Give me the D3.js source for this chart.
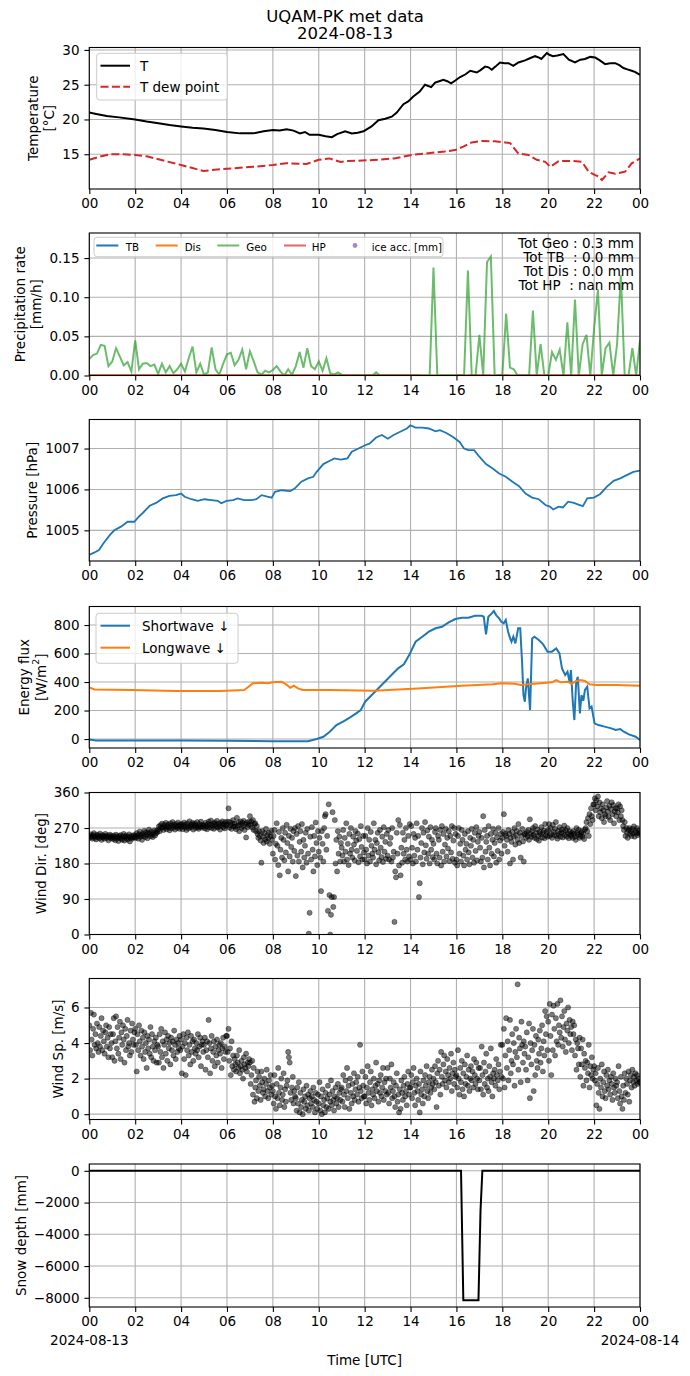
<!DOCTYPE html>
<html><head><meta charset="utf-8">
<script src="https://cdn.jsdelivr.net/npm/d3@7"></script>
<style>body{margin:0;background:#fff} text{font-family:"DejaVu Sans",sans-serif}</style>
</head><body>
<svg id="c" width="690" height="1376"></svg>
<script>
// ---------------- DATA ----------------
const hourTicks = [0,2,4,6,8,10,12,14,16,18,20,22,24];
const dateLabels = ["2024-08-13","2024-08-14"];

const tempT = [[0,21.0],[0.3,20.8],[0.76,20.5],[1.3,20.3],[2,20.0],[2.5,19.7],[2.94,19.5],[3.5,19.2],[4,19.0],[4.5,18.8],[4.97,18.7],[5.5,18.5],[6,18.2],[6.57,18.0],[7.15,18.0],[7.6,18.3],[8,18.5],[8.3,18.4],[8.6,18.6],[8.9,18.4],[9.18,18.0],[9.4,18.2],[9.6,17.8],[10,17.8],[10.3,17.6],[10.57,17.45],[10.8,17.9],[11.15,18.3],[11.44,18.0],[11.7,18.1],[11.95,18.3],[12.3,19.0],[12.6,19.9],[12.9,20.1],[13.18,20.4],[13.4,21.0],[13.69,22.2],[13.9,22.6],[14.12,23.3],[14.4,24.0],[14.63,25.0],[14.9,24.65],[15.07,25.3],[15.25,25.5],[15.43,25.7],[15.6,25.5],[15.77,25.2],[15.95,25.6],[16.16,26.1],[16.4,26.5],[16.6,27.0],[16.89,26.75],[17.05,27.1],[17.25,27.6],[17.4,27.5],[17.54,27.15],[17.7,27.6],[17.9,28.2],[18.1,28.1],[18.27,28.1],[18.48,27.7],[18.7,28.2],[18.99,28.5],[19.2,28.8],[19.43,29.1],[19.6,28.9],[19.7,28.7],[19.94,29.55],[20.05,29.3],[20.2,29.1],[20.4,29.2],[20.66,29.4],[20.9,28.6],[21.17,28.2],[21.4,28.6],[21.6,28.7],[21.83,29.0],[22.05,28.9],[22.25,28.5],[22.48,27.96],[22.7,28.1],[22.92,28.1],[23.1,27.8],[23.28,27.4],[23.45,27.2],[23.64,27.0],[23.8,26.8],[24,26.4]];

const tempDew = [[0,14.2],[0.46,14.65],[0.9,15.0],[1.33,15.0],[2,14.9],[2.5,14.7],[3.1,14.2],[4,13.45],[4.97,12.6],[5.7,12.84],[6.28,12.98],[7.15,13.2],[8,13.45],[8.6,13.7],[9.47,13.6],[10,14.2],[10.45,14.4],[10.95,13.9],[11.15,14.0],[12.6,14.2],[13.3,14.4],[14.05,14.9],[14.63,15.1],[15.5,15.4],[15.94,15.6],[16.3,16.1],[16.67,16.7],[17.1,16.9],[17.68,16.85],[18.12,16.7],[18.34,16.6],[18.7,15.1],[19.14,14.9],[19.5,14.2],[19.87,13.9],[20.09,13.2],[20.45,14.0],[21.03,14.05],[21.47,13.9],[21.76,12.5],[22.05,12.0],[22.2,11.8],[22.34,11.3],[22.5,11.9],[22.63,12.4],[22.92,12.2],[23.35,12.5],[23.64,13.7],[24,14.4]];

// Geo precipitation rate, 10-min values, one row per hour
const geoByHour = [
 [0.021,0.026,0.028,0.039,0.038,0.012],
 [0.018,0.035,0.024,0.013,0.017,0.005],
 [0.045,0.008,0.015,0.016,0.012,0.014],
 [0.002,0.015,0.004,0.012,0.003,0.008],
 [0.015,0.005,0.022,0.037,0.004,0.015],
 [0.001,0.004,0.036,0.008,0.001,0.015],
 [0.027,0.029,0.013,0.020,0.033,0.008],
 [0.031,0.018,0.004,0.001,0.006,0.004],
 [0.007,0.012,0.005,0.000,0.008,0.001],
 [0.012,0.030,0.010,0.035,0.012,0.008],
 [0.018,0.006,0.022,0.003,0.001,0.004],
 [0.001,0,0,0,0,0],
 [0,0,0,0.004,0,0],
 [0,0,0,0,0,0],
 [0,0,0,0,0,0],
 [0.138,0,0,0,0,0],
 [0,0,0,0.134,0,0],
 [0.052,0,0.145,0.152,0,0],
 [0,0.079,0.010,0.008,0,0],
 [0,0,0.083,0,0.040,0],
 [0,0.030,0.020,0.033,0,0.068],
 [0,0.097,0,0.040,0.052,0],
 [0.060,0.110,0,0.035,0.042,0],
 [0.040,0.128,0,0,0.035,0],
 [0.045]
];
const tbRate = [[0,0],[24,0]];
const disRate = [[0,0],[24,0]];
const hpSegments = [[0,14.4],[16.0,16.3],[16.5,17.5],[17.8,18.3],[18.6,24]];
const precipTotals = ["Tot Geo : 0.3 mm","Tot TB  : 0.0 mm","Tot Dis : 0.0 mm","Tot HP  : nan mm"];
const precipLegend = ["TB","Dis","Geo","HP","ice acc. [mm]"];

const pressure = [[0,1004.40],[0.23,1004.46],[0.42,1004.52],[0.61,1004.68],[0.9,1004.89],[1.09,1005.0],[1.38,1005.09],[1.67,1005.21],[1.96,1005.21],[2.15,1005.33],[2.34,1005.43],[2.63,1005.60],[2.91,1005.67],[3.2,1005.78],[3.49,1005.84],[3.78,1005.86],[4.0,1005.90],[4.16,1005.82],[4.45,1005.76],[4.73,1005.72],[5.02,1005.76],[5.31,1005.74],[5.6,1005.72],[5.75,1005.66],[5.98,1005.72],[6.27,1005.74],[6.46,1005.78],[6.75,1005.74],[7.03,1005.74],[7.28,1005.76],[7.51,1005.86],[7.8,1005.82],[7.95,1005.80],[8.09,1005.94],[8.38,1005.98],[8.76,1005.96],[8.95,1006.02],[9.24,1006.19],[9.53,1006.27],[9.76,1006.31],[9.91,1006.43],[10.2,1006.62],[10.48,1006.70],[10.68,1006.76],[10.96,1006.73],[11.25,1006.76],[11.44,1006.92],[11.73,1007.0],[12.02,1007.08],[12.21,1007.12],[12.5,1007.27],[12.75,1007.33],[13.01,1007.24],[13.26,1007.33],[13.55,1007.41],[13.84,1007.49],[13.99,1007.57],[14.22,1007.51],[14.51,1007.51],[14.8,1007.49],[15.09,1007.42],[15.28,1007.45],[15.56,1007.38],[15.85,1007.28],[16.14,1007.16],[16.33,1007.0],[16.52,1006.96],[16.77,1006.96],[17.0,1006.80],[17.29,1006.62],[17.58,1006.51],[17.86,1006.39],[18.15,1006.31],[18.44,1006.19],[18.73,1006.08],[19.01,1005.90],[19.3,1005.80],[19.59,1005.76],[19.88,1005.62],[20.07,1005.58],[20.22,1005.51],[20.45,1005.58],[20.64,1005.56],[20.87,1005.70],[21.12,1005.67],[21.31,1005.63],[21.51,1005.59],[21.7,1005.78],[21.99,1005.80],[22.27,1005.89],[22.56,1006.07],[22.85,1006.21],[23.14,1006.27],[23.42,1006.35],[23.71,1006.43],[24,1006.46]];

const shortwave = [[0,-3],[0.3,-10],[2,-10],[4,-11],[6,-12],[8,-15],[9.53,-16],[9.91,0],[10.2,16],[10.48,51],[10.77,98],[11.06,122],[11.35,150],[11.63,180],[11.83,203],[12.02,262],[12.31,309],[12.59,355],[12.88,402],[13.17,449],[13.46,496],[13.71,524],[13.94,589],[14.22,683],[14.51,718],[14.8,753],[15.09,777],[15.37,788],[15.66,819],[15.95,842],[16.24,851],[16.52,851],[16.81,865],[17.1,865],[17.19,858],[17.29,734],[17.39,858],[17.54,882],[17.63,898],[17.73,870],[17.86,847],[17.96,823],[18.06,812],[18.15,835],[18.25,753],[18.34,706],[18.4,683],[18.48,718],[18.57,671],[18.69,777],[18.78,777],[18.86,543],[18.92,309],[18.98,262],[19.03,355],[19.11,426],[19.21,203],[19.3,706],[19.4,718],[19.59,695],[19.78,664],[19.97,613],[20.16,613],[20.35,636],[20.49,601],[20.6,496],[20.74,449],[20.84,472],[20.93,402],[20.99,484],[21.07,262],[21.14,133],[21.22,402],[21.29,437],[21.38,180],[21.45,309],[21.53,267],[21.6,344],[21.7,367],[21.8,215],[21.89,227],[22.02,110],[22.18,98],[22.46,87],[22.75,75],[22.94,63],[23.14,70],[23.29,51],[23.52,33],[23.81,16],[24,-7]];

const longwave = [[0,362],[0.23,348],[1.86,344],[3.78,337],[5.69,337],[6.75,344],[6.94,367],[7.13,391],[7.51,395],[7.8,391],[8.0,398],[8.38,402],[8.57,384],[8.76,360],[8.91,374],[9.1,355],[9.3,344],[10.48,344],[12.4,339],[14.32,355],[16.24,374],[17.58,384],[17.96,391],[18.53,388],[18.82,379],[19.11,384],[19.68,391],[20.16,398],[20.35,414],[20.54,398],[20.84,402],[21.03,388],[21.22,407],[21.41,414],[21.6,407],[21.8,384],[22.09,379],[22.94,379],[24,374]];

// wind direction [deg], 2-min values, one row per hour
const windDirByHour = [
 [250,246,254,248,243,252,257,245,249,241,253,247,251,244,256,248,240,252,246,250,243,255,249,245,251,239,247,253,244,250],
 [247,242,251,245,239,253,248,244,237,250,246,252,243,240,249,255,238,247,251,244,241,248,254,236,245,250,243,247,252,246],
 [251,245,257,249,243,254,261,248,252,240,256,250,263,247,259,252,244,258,266,255,249,261,253,247,258,264,251,256,262,259],
 [266,274,262,277,270,281,272,265,278,271,283,267,275,279,271,264,282,276,269,285,273,278,266,280,274,270,284,276,268,279],
 [273,280,267,276,284,271,278,265,282,274,269,287,275,272,279,283,266,277,281,270,276,285,272,268,280,274,286,271,278,275],
 [277,269,283,274,267,280,286,272,278,289,270,276,282,268,284,279,273,288,271,281,275,266,283,278,287,272,280,269,285,276],
 [279,286,320,271,285,277,268,282,290,274,281,273,267,296,276,284,262,278,287,270,283,275,288,265,280,246,284,272,278,286],
 [300,278,286,271,290,265,280,282,262,275,255,245,262,250,238,182,262,248,232,257,241,268,236,252,244,258,230,249,263,240],
 [205,250,265,190,230,282,225,176,260,150,215,245,195,270,240,188,258,208,278,232,160,250,198,268,222,245,185,262,212,270],
 [148,255,200,275,185,235,262,210,280,170,240,195,225,258,182,268,205,2,55,248,190,272,215,160,250,198,284,232,176,262],
 [210,245,195,110,262,230,185,270,300,305,215,250,60,330,100,0,50,95,310,70,95,290,180,240,160,262,205,248,185,232],
 [220,200,265,185,245,210,282,190,230,176,255,205,270,215,195,248,228,188,262,238,212,256,183,242,198,275,222,190,250,208],
 [190,250,215,180,270,200,240,185,260,225,205,195,282,215,240,178,232,258,208,188,265,220,196,248,184,272,210,235,192,255],
 [200,265,190,230,245,185,270,195,210,32,160,145,258,205,290,175,278,150,220,182,258,205,240,190,270,215,185,250,198,280],
 [190,275,220,180,255,200,245,185,282,215,250,95,130,195,232,270,178,258,208,285,226,192,264,205,248,180,272,215,240,196],
 [230,190,260,270,205,180,250,240,195,265,175,275,210,255,185,228,268,198,245,218,262,186,250,208,275,192,238,270,182,255],
 [190,175,250,270,205,230,185,265,240,200,175,255,215,230,190,262,208,178,245,225,268,195,240,182,258,212,272,188,235,250],
 [260,220,185,245,195,300,170,265,210,235,250,190,275,220,175,255,205,240,268,198,232,258,182,246,212,270,190,238,255,205],
 [245,260,305,225,255,250,240,210,265,255,180,245,235,260,190,248,270,228,252,262,240,280,232,258,195,250,268,236,185,255],
 [255,245,260,250,265,240,292,255,248,262,270,252,245,275,258,242,266,250,238,260,254,272,246,258,264,244,280,252,260,248],
 [265,280,250,270,255,245,278,260,252,268,285,250,243,262,255,272,248,258,266,246,260,276,252,264,248,270,256,244,262,254],
 [250,258,245,262,255,248,240,270,258,253,265,245,250,258,262,248,255,242,266,270,285,262,295,250,305,280,320,300,290,330],
 [330,345,315,340,325,350,300,335,310,320,295,330,315,285,305,300,322,338,312,298,326,290,318,335,305,328,282,312,320,300],
 [320,310,330,290,325,300,315,290,275,265,285,250,270,258,245,265,270,255,262,250,268,256,274,248,262,258,270,252,264,256],
 [258]
];

// wind speed [m/s], 2-min values, one row per hour
const windSpByHour = [
 [5.0,3.6,5.7,4.2,3.3,4.8,5.6,3.9,4.5,3.7,5.1,4.0,3.5,4.9,3.8,4.4,5.4,3.6,4.7,4.1,3.4,4.6,5.0,3.8,4.3,3.2,4.9,3.7,4.5,4.0],
 [3.2,4.5,5.4,3.0,4.1,5.5,3.7,4.9,3.4,4.3,5.2,3.1,4.6,3.9,5.0,4.2,2.9,4.8,3.6,4.4,5.3,3.8,4.0,3.3,4.7,3.5,5.1,4.2,3.9,4.6],
 [4.8,3.9,2.4,4.5,3.6,5.0,4.1,3.3,4.7,3.8,4.3,3.1,4.6,3.5,4.0,2.6,4.4,3.7,4.2,3.4,4.9,3.2,4.5,3.8,3.0,4.1,3.6,4.3,2.9,3.9],
 [3.8,2.9,4.5,3.5,4.8,3.2,4.1,2.6,3.9,4.6,3.4,4.2,3.0,4.4,3.7,4.0,2.8,4.3,3.6,4.1,3.3,4.7,3.9,3.1,4.2,3.5,4.0,3.7,4.4,3.6],
 [4.2,2.3,3.8,4.5,3.1,4.0,2.2,4.3,3.6,4.6,3.3,3.9,2.8,4.4,3.5,4.1,3.0,4.2,3.7,3.4,4.0,3.6,4.5,3.2,3.8,4.3,2.7,3.9,4.1,3.5],
 [3.9,4.3,2.5,3.6,4.1,3.2,5.3,4.0,2.3,3.7,4.4,3.0,3.5,4.1,2.7,3.8,3.3,4.2,2.9,3.6,3.9,3.4,4.0,2.6,3.7,4.3,3.1,3.8,3.5,4.4],
 [4.4,3.5,4.8,3.0,3.7,2.2,4.1,2.7,3.3,2.5,3.1,2.8,2.4,3.3,2.9,2.6,3.6,2.3,2.7,3.0,2.5,2.0,3.2,2.8,2.6,3.4,2.4,2.9,2.7,3.1],
 [2.9,1.7,2.2,3.0,1.1,2.6,0.7,1.5,1.9,0.9,2.4,1.3,2.1,1.6,0.8,2.4,1.8,1.2,1.4,2.0,1.0,1.7,2.5,1.3,0.9,1.9,1.5,2.2,1.1,1.6],
 [1.3,0.6,2.2,1.0,0.3,1.7,0.9,2.6,1.2,0.5,1.5,2.0,0.8,1.1,2.3,0.4,1.4,0.7,1.6,1.9,3.5,3.2,2.9,1.2,0.8,1.5,2.1,0.6,1.3,1.0],
 [0.9,0.2,1.5,0.6,1.8,0.1,1.2,0.4,0.8,0.0,1.4,0.7,1.0,0.3,1.6,0.5,1.1,0.2,0.9,1.3,0.6,1.0,0.4,1.5,0.8,0.1,1.2,0.7,0.3,1.1],
 [0.6,1.8,0.2,1.0,0.0,1.4,0.5,0.8,0.1,1.2,0.4,0.9,1.6,0.3,1.1,0.7,1.9,0.5,1.3,0.8,0.2,1.0,1.5,0.6,0.9,1.7,0.4,1.2,0.8,1.4],
 [1.5,0.7,2.2,1.1,0.4,1.9,1.3,2.6,0.9,1.6,0.3,2.0,1.2,0.6,1.7,1.0,2.3,0.8,1.4,1.8,1.1,2.1,0.7,1.5,3.9,1.3,0.9,2.4,1.6,1.0],
 [1.0,2.1,0.6,1.5,2.7,1.2,0.8,1.8,2.4,0.5,1.4,1.1,2.0,0.9,1.6,2.9,1.3,1.7,0.7,1.9,1.2,2.2,1.0,1.5,2.6,0.8,1.8,1.3,2.0,1.1],
 [2.6,1.2,0.6,2.0,1.5,2.8,0.9,1.3,1.8,1.0,0.4,1.6,2.3,0.7,1.1,0.1,1.4,0.3,1.9,1.2,0.8,1.6,2.1,1.0,1.3,0.5,1.7,2.4,1.1,1.5],
 [1.5,2.2,0.9,1.8,2.6,1.2,0.5,1.6,2.0,1.3,0.8,1.7,0.1,2.4,1.1,1.4,0.6,1.9,1.0,2.2,1.6,2.7,1.3,0.9,1.8,2.1,1.2,1.5,2.5,1.7],
 [2.0,1.4,2.7,1.8,0.4,2.3,3.0,1.6,2.5,1.1,3.5,2.1,1.7,2.8,3.3,1.9,2.4,1.5,3.1,2.2,1.8,2.6,2.0,3.4,1.3,2.3,2.9,1.7,2.5,2.1],
 [2.2,1.5,3.6,2.0,1.1,2.6,1.8,3.0,1.4,2.3,1.0,2.8,1.7,2.1,3.3,1.6,2.5,1.3,2.0,2.7,1.9,2.4,1.5,3.1,2.2,1.7,2.9,2.0,1.4,2.6],
 [1.9,2.6,1.4,3.8,2.2,1.1,2.9,1.7,2.4,3.4,1.5,2.0,1.3,2.7,2.1,3.7,1.8,1.0,2.3,2.0,2.5,1.6,3.1,2.2,1.9,2.8,1.4,2.4,3.9,2.1],
 [3.9,2.0,4.8,1.5,3.3,5.4,2.6,4.1,1.9,3.6,5.3,2.3,3.0,4.5,2.8,4.0,1.6,3.5,4.8,3.2,7.3,2.5,4.3,3.7,1.8,5.2,3.9,2.9,4.1,3.4],
 [3.8,2.5,4.6,1.9,3.2,5.1,0.9,4.0,2.8,3.6,4.8,1.3,3.9,2.2,4.4,3.0,2.6,4.2,3.4,4.7,2.9,3.7,5.0,2.4,4.1,3.3,5.8,4.5,5.5,3.6],
 [5.2,3.0,6.2,4.4,2.2,5.6,3.6,6.1,4.8,3.3,5.4,4.1,6.2,3.9,5.0,4.6,6.4,4.3,5.5,3.8,4.9,5.8,4.2,3.5,5.1,4.7,6.0,4.0,5.3,4.5],
 [4.9,3.6,5.2,4.5,5.0,3.3,4.2,2.5,4.0,3.7,2.8,4.3,2.1,3.7,2.8,4.2,1.6,3.4,2.6,3.0,1.9,2.9,2.3,3.9,1.5,2.7,2.2,3.2,2.0,2.5],
 [2.7,1.9,2.3,0.5,1.7,2.6,1.2,0.3,2.0,1.5,2.8,1.0,1.8,2.4,1.3,0.9,2.2,1.6,2.5,1.4,1.9,1.1,2.1,1.7,0.8,2.3,1.5,1.2,2.0,1.6],
 [1.8,0.9,2.7,1.3,0.6,2.1,1.0,0.3,1.6,0.8,2.3,1.2,2.0,1.7,1.1,2.4,0.7,1.9,2.2,1.5,2.5,1.8,2.1,1.6,2.3,1.9,2.2,1.7,2.0,1.8],
 [1.8]
];

const snowDepth = [[0,0],[16.2,0],[16.3,-8150],[16.96,-8150],[17.05,-2500],[17.13,0],[24,0]];

// axis settings
const yTicksT = [15,20,25,30], yLimT = [10.0,30.35];
const yTicksP = [0,0.05,0.10,0.15], yLimP = [0,0.182];
const yTicksPr = [1005,1006,1007], yLimPr = [1004.25,1007.71];
const yTicksE = [0,200,400,600,800], yLimE = [-63,930];
const yTicksD = [0,90,180,270,360], yLimD = [0,360];
const yTicksS = [0,2,4,6], yLimS = [-0.3,7.63];
const yTicksSn = [0,-2000,-4000,-6000,-8000], yLimSn = [-8580,430];

// ---------------- DRAW ----------------
const svg = d3.select('#c');
const FS = 13.5;
const X0 = 89.3, X1 = 640;
const x = d3.scaleLinear().domain([0,24]).range([X0,X1]);
const layout = [[47.5,189],[233,375.5],[419.5,561],[606.5,748],[792.5,934.5],[978.5,1119.5],[1164,1307]];
const expand = rows => rows.flatMap((r,h)=>r.map((v,j)=>[h + j/r.length, v]));

function panel(i, yLim, yTicks, yFmt, labelLines) {
  const [top,bot] = layout[i];
  const y = d3.scaleLinear().domain(yLim).range([bot,top]);
  const g = svg.append('g');
  g.selectAll(null).data(hourTicks).join('line')
    .attr('x1',d=>x(d)).attr('x2',d=>x(d)).attr('y1',top).attr('y2',bot)
    .attr('stroke','#b0b0b0').attr('stroke-width',1.1);
  g.selectAll(null).data(yTicks).join('line')
    .attr('x1',X0).attr('x2',X1).attr('y1',d=>y(d)).attr('y2',d=>y(d))
    .attr('stroke','#b0b0b0').attr('stroke-width',1.1);
  svg.append('clipPath').attr('id','clip'+i).append('rect')
    .attr('x',X0).attr('y',top).attr('width',X1-X0).attr('height',bot-top);
  const plot = g.append('g').attr('clip-path',`url(#clip${i})`);
  const ax = g.append('g').attr('transform',`translate(0,${bot})`)
    .call(d3.axisBottom(x).tickValues(hourTicks).tickSizeOuter(0).tickSize(4.9).tickPadding(5)
      .tickFormat(d=>String(d%24).padStart(2,'0')));
  const ay = g.append('g').attr('transform',`translate(${X0},0)`)
    .call(d3.axisLeft(y).tickValues(yTicks).tickSizeOuter(0).tickSize(4.9).tickPadding(4.9).tickFormat(yFmt));
  [ax,ay].forEach(a=>{
    a.select('.domain').remove();
    a.attr('font-family','DejaVu Sans').attr('font-size',FS);
    a.selectAll('line').attr('stroke','#000').attr('stroke-width',1.1);
    a.selectAll('text').attr('fill','#000');
  });
  const bb = ay.node().getBBox();
  const left = X0 + bb.x;
  const yc = (top+bot)/2;
  const n = labelLines.length;
  labelLines.forEach((ln,k)=>{
    const cx = left - 5.4 - 7.6 - (n-1-k)*16.4;
    const t = g.append('text').attr('transform',`translate(${cx},${yc}) rotate(-90)`)
      .attr('text-anchor','middle').attr('dominant-baseline','central').attr('font-size',FS).attr('fill','#000');
    if (Array.isArray(ln)) {
      t.append('tspan').text(ln[0]);
      t.append('tspan').text(ln[1]).attr('font-size',FS*0.7).attr('dy',-5.5);
      t.append('tspan').text(ln[2]).attr('dy',5.5);
    } else t.text(ln);
  });
  return {y, plot, g, top, bot};
}
function spines(p){
  p.g.append('rect').attr('x',X0).attr('y',p.top).attr('width',X1-X0).attr('height',p.bot-p.top)
    .attr('fill','none').attr('stroke','#000').attr('stroke-width',1.1);
}
function legendBox(g,x0,y0,w,h){
  g.append('rect').attr('x',x0).attr('y',y0).attr('width',w).attr('height',h).attr('rx',3)
    .attr('fill','#fff').attr('fill-opacity',0.8).attr('stroke','#cccccc').attr('stroke-width',1);
}
const lineGen = y => d3.line().x(d=>x(d[0])).y(d=>y(d[1]));
function scatter(p, data){
  p.plot.selectAll(null).data(data).join('circle')
    .attr('cx',d=>x(d[0])).attr('cy',d=>p.y(d[1])).attr('r',2.6)
    .attr('fill','#000').attr('fill-opacity',0.52).attr('stroke','#000').attr('stroke-opacity',0.45).attr('stroke-width',0.7);
}

// title
svg.append('text').attr('x',345).attr('y',16.7).attr('text-anchor','middle').attr('dominant-baseline','central')
  .attr('font-size',16.5).text('UQAM-PK met data');
svg.append('text').attr('x',345).attr('y',33.3).attr('text-anchor','middle').attr('dominant-baseline','central')
  .attr('font-size',16.5).text('2024-08-13');

// Panel 1: temperature
{
  const p = panel(0, yLimT, yTicksT, d3.format('d'), ['Temperature','[°C]']);
  p.plot.append('path').datum(tempT).attr('d',lineGen(p.y)).attr('fill','none').attr('stroke','#000').attr('stroke-width',2);
  p.plot.append('path').datum(tempDew).attr('d',lineGen(p.y)).attr('fill','none').attr('stroke','#d62728').attr('stroke-width',2).attr('stroke-dasharray','8,3.4');
  spines(p);
  legendBox(p.g,96.7,53.3,130.6,46.7);
  p.g.append('line').attr('x1',100.5).attr('x2',130).attr('y1',65.7).attr('y2',65.7).attr('stroke','#000').attr('stroke-width',2);
  p.g.append('line').attr('x1',100.5).attr('x2',130).attr('y1',86.7).attr('y2',86.7).attr('stroke','#d62728').attr('stroke-width',2).attr('stroke-dasharray','8,3.4');
  p.g.append('text').attr('x',140).attr('y',65.7).attr('dominant-baseline','central').attr('font-size',FS).text('T');
  p.g.append('text').attr('x',140).attr('y',86.7).attr('dominant-baseline','central').attr('font-size',FS).text('T dew point');
}

// Panel 2: precipitation
{
  const p = panel(1, yLimP, yTicksP, d3.format('.2f'), ['Precipitation rate','[mm/h]']);
  const lg = lineGen(p.y);
  p.plot.append('path').datum(tbRate).attr('d',lg).attr('fill','none').attr('stroke','#1f77b4').attr('stroke-width',2);
  p.plot.append('path').datum(disRate).attr('d',lg).attr('fill','none').attr('stroke','#ff7f0e').attr('stroke-width',2);
  p.plot.append('path').datum(expand(geoByHour)).attr('d',lg).attr('fill','none').attr('stroke','#2ca02c').attr('stroke-opacity',0.7).attr('stroke-width',2);
  p.plot.selectAll(null).data(hpSegments).join('line')
    .attr('x1',d=>x(d[0])).attr('x2',d=>x(d[1])).attr('y1',p.y(0)).attr('y2',p.y(0))
    .attr('stroke','#d62728').attr('stroke-opacity',0.7).attr('stroke-width',2);
  spines(p);
  legendBox(p.g,94,237.3,349,19.4);
  const cols = ['#1f77b4','#ff7f0e','#2ca02c','#d62728'];
  const lx = [96.3,155.7,217.3,284];
  const tx = [125.7,184.7,246.3,311.7];
  cols.forEach((c,k)=>{
    p.g.append('line').attr('x1',lx[k]).attr('x2',lx[k]+22).attr('y1',245.5).attr('y2',245.5)
      .attr('stroke',c).attr('stroke-opacity',k>=2?0.7:1).attr('stroke-width',2);
    p.g.append('text').attr('x',tx[k]).attr('y',247).attr('dominant-baseline','central').attr('font-size',10.3).text(precipLegend[k]);
  });
  p.g.append('circle').attr('cx',355).attr('cy',245.5).attr('r',2.4).attr('fill','#9467bd').attr('fill-opacity',0.8);
  p.g.append('text').attr('x',371.7).attr('y',247).attr('dominant-baseline','central').attr('font-size',10.3).text(precipLegend[4]);
  precipTotals.forEach((s,k)=>{
    p.g.append('text').attr('x',634).attr('y',242.5+k*14.1).attr('text-anchor','end').attr('dominant-baseline','central')
      .attr('font-size',13.5).style('white-space','pre').text(s);
  });
}

// Panel 3: pressure
{
  const p = panel(2, yLimPr, yTicksPr, d3.format('d'), ['Pressure [hPa]']);
  p.plot.append('path').datum(pressure).attr('d',lineGen(p.y)).attr('fill','none').attr('stroke','#1f77b4').attr('stroke-width',1.8);
  spines(p);
}

// Panel 4: energy
{
  const p = panel(3, yLimE, yTicksE, d3.format('d'), ['Energy flux',['[W/m','2',']']]);
  p.plot.append('path').datum(shortwave).attr('d',lineGen(p.y)).attr('fill','none').attr('stroke','#1f77b4').attr('stroke-width',2);
  p.plot.append('path').datum(longwave).attr('d',lineGen(p.y)).attr('fill','none').attr('stroke','#ff7f0e').attr('stroke-width',2);
  spines(p);
  legendBox(p.g,96,613.3,142,50);
  p.g.append('line').attr('x1',100.5).attr('x2',130).attr('y1',625.7).attr('y2',625.7).attr('stroke','#1f77b4').attr('stroke-width',2);
  p.g.append('line').attr('x1',100.5).attr('x2',130).attr('y1',647.7).attr('y2',647.7).attr('stroke','#ff7f0e').attr('stroke-width',2);
  p.g.append('text').attr('x',142).attr('y',625.7).attr('dominant-baseline','central').attr('font-size',FS).text('Shortwave ↓');
  p.g.append('text').attr('x',142).attr('y',647.7).attr('dominant-baseline','central').attr('font-size',FS).text('Longwave ↓');
}

// Panel 5: wind direction
{
  const p = panel(4, yLimD, yTicksD, d3.format('d'), ['Wind Dir. [deg]']);
  scatter(p, expand(windDirByHour));
  spines(p);
}

// Panel 6: wind speed
{
  const p = panel(5, yLimS, yTicksS, d3.format('d'), ['Wind Sp. [m/s]']);
  scatter(p, expand(windSpByHour));
  spines(p);
}

// Panel 7: snow depth
{
  const p = panel(6, yLimSn, yTicksSn, d3.format('d'), ['Snow depth [mm]']);
  p.plot.append('path').datum(snowDepth).attr('d',lineGen(p.y)).attr('fill','none').attr('stroke','#000').attr('stroke-width',2);
  spines(p);
  [0,24].forEach((h,k)=>{
    svg.append('text').attr('x',x(h)).attr('y',1340).attr('text-anchor','middle').attr('dominant-baseline','central')
      .attr('font-size',FS).text(dateLabels[k]);
  });
  svg.append('text').attr('x',(X0+X1)/2).attr('y',1359.5).attr('text-anchor','middle').attr('dominant-baseline','central')
    .attr('font-size',FS).text('Time [UTC]');
}
</script>
</body></html>
